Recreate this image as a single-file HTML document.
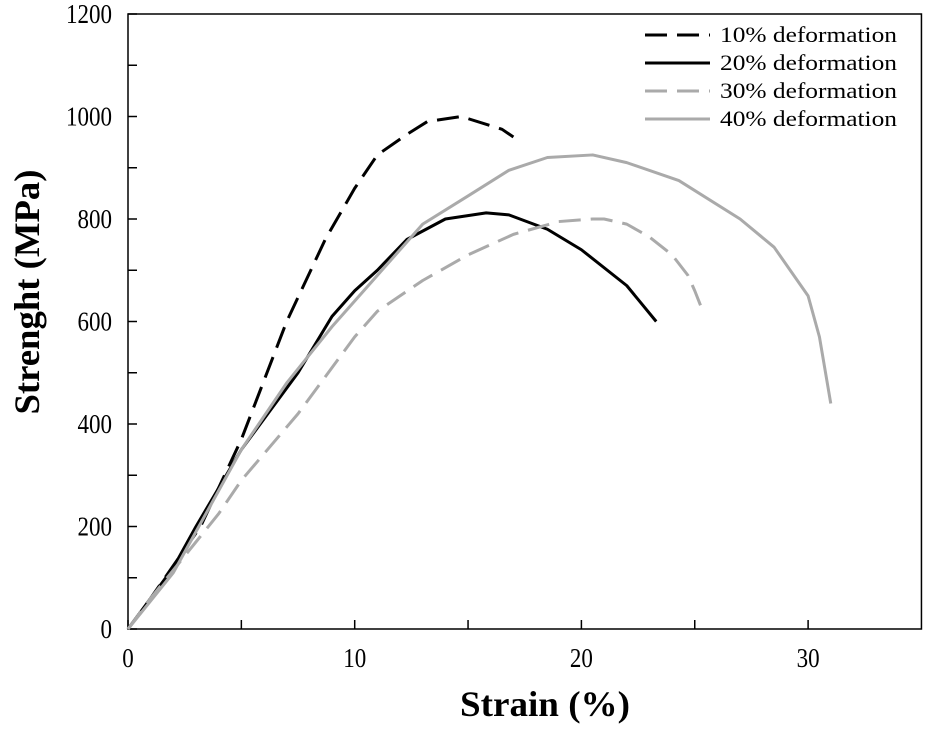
<!DOCTYPE html>
<html><head><meta charset="utf-8"><style>
body{margin:0;background:#fff}
svg text{font-family:"Liberation Serif",serif}
</style></head><body>
<svg id="chart" width="925" height="726"></svg>
<script>
const xTicks=[0,10,20,30];
const xMinor=[5,15,25];
const yTicks=[0,200,400,600,800,1000,1200];
const yMinor=[100,300,500,700,900,1100];
const seriesNames=["10% deformation","20% deformation","30% deformation","40% deformation"];
const s10x=[0,1,3.2,5,7,8.7,10,11,12.3,13.2,14.7,16.5,17];
const s10y=[0,60,200,370,600,760,860,925,965,990,1000,975,960];
const s20x=[0,2,3,5,7.5,9,10,11,12.3,14,15.8,16.8,18.5,20,22,23.3];
const s20y=[0,120,200,350,500,610,660,700,760,800,812,808,780,740,670,600];
const s30x=[0,1,3,4,5,7.5,10,11,13,15,17,19,20.5,21,22,23,24,24.7,25,25.4];
const s30y=[0,60,170,225,290,420,570,620,680,730,770,795,800,800,790,765,730,690,660,615];
const s40x=[0,2,3,5,7,9,11,13,15,16.8,18.5,20.5,22,24.3,27,28.5,30,30.5,31];
const s40y=[0,110,190,350,480,590,690,790,845,895,920,925,910,875,800,745,650,570,440];
const styles=[{c:"#000",d:"22,10"},{c:"#000",d:""},{c:"#aaa",d:"22,10"},{c:"#aaa",d:""}];
const X=v=>128+v*22.67, Y=v=>629-v*0.5125;
const svg=document.getElementById('chart');
const NS="http://www.w3.org/2000/svg";
function mk(t,a){const e=document.createElementNS(NS,t);for(const k in a)e.setAttribute(k,a[k]);svg.appendChild(e);return e;}
let e=mk('rect',{x:X(0),y:Y(1200),width:X(35)-X(0),height:Y(0)-Y(1200),fill:'none',stroke:'#000','stroke-width':1.5});


xTicks.concat(xMinor).forEach(v=>{
 const t=mk('line',{x1:X(v),x2:X(v),y1:Y(0),y2:Y(0)-9,stroke:'#000','stroke-width':1.5});
 
 
});
xTicks.forEach(v=>{
 const s=String(v);
 const t=mk('text',{x:X(v),y:667,'text-anchor':'middle','font-size':27,textLength:s.length*11.5,lengthAdjust:'spacingAndGlyphs'});t.textContent=s;
 
 
});
yTicks.concat(yMinor).forEach(v=>{
 const t=mk('line',{x1:X(0),x2:X(0)+9,y1:Y(v),y2:Y(v),stroke:'#000','stroke-width':1.5});
 
 
});
yTicks.forEach(v=>{
 const s=String(v);
 const t=mk('text',{x:112,y:Y(v)+9,'text-anchor':'end','font-size':27,textLength:s.length*11.5,lengthAdjust:'spacingAndGlyphs'});t.textContent=s;
 
 
});
e=mk('text',{x:545,y:716,'text-anchor':'middle','font-size':36,'font-weight':'bold',textLength:170,lengthAdjust:'spacingAndGlyphs'});e.textContent="Strain (%)";


e=mk('text',{x:0,y:0,transform:'translate(39,292) rotate(-90)','text-anchor':'middle','font-size':36,'font-weight':'bold',textLength:245,lengthAdjust:'spacingAndGlyphs'});e.textContent="Strenght (MPa)";


const xs=[s10x,s20x,s30x,s40x], ys=[s10y,s20y,s30y,s40y];
xs.forEach((sx,i)=>{
 const p=mk('polyline',{points:sx.map((v,j)=>X(v)+','+Y(ys[i][j])).join(' '),fill:'none',stroke:styles[i].c,'stroke-width':3,'stroke-dasharray':styles[i].d,'stroke-linejoin':'round'});
 
 
 const ly=35+i*28;
 const l=mk('line',{x1:645,x2:710,y1:ly,y2:ly,stroke:styles[i].c,'stroke-width':3,'stroke-dasharray':styles[i].d});
 
 
 const t=mk('text',{x:720,y:ly+7,'font-size':22,textLength:177,lengthAdjust:'spacingAndGlyphs'});t.textContent=seriesNames[i];
 
 
});
</script>
</body></html>
